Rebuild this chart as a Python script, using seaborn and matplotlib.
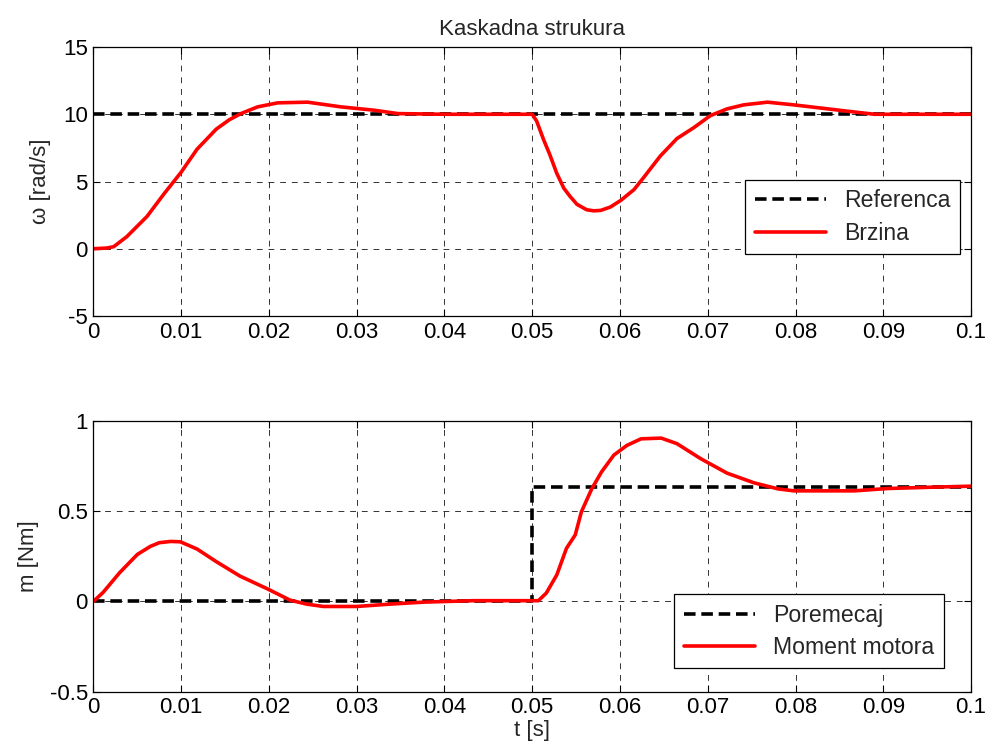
import numpy as np
import pandas as pd
import matplotlib
matplotlib.use("Agg")
import matplotlib.pyplot as plt
import seaborn as sns

# ---- data ----
t_ref = [0.0, 0.1]
omega_ref = [10.0, 10.0]

t_speed = [0.0, 0.0015, 0.0023, 0.0038, 0.0061, 0.008, 0.01, 0.0118, 0.014, 0.0155,
           0.0168, 0.0187, 0.021, 0.0244, 0.0282, 0.032, 0.0347, 0.040, 0.0500, 0.0505,
           0.0513, 0.052, 0.0528, 0.0536, 0.0543, 0.0551, 0.0562, 0.0570, 0.0578, 0.0589,
           0.0601, 0.0616, 0.0627, 0.0646, 0.0665, 0.0684, 0.0703, 0.0722, 0.0741, 0.0768,
           0.0798, 0.0837, 0.0863, 0.089, 0.095, 0.1]
omega = [0.0, 0.05, 0.15, 0.9, 2.4, 4.05, 5.7, 7.4, 8.9, 9.6,
         10.05, 10.55, 10.85, 10.9, 10.55, 10.3, 10.05, 10.0, 10.0, 9.5,
         8.1, 7.0, 5.6, 4.5, 3.9, 3.3, 2.9, 2.82, 2.85, 3.1,
         3.6, 4.4, 5.3, 6.9, 8.2, 9.0, 9.9, 10.4, 10.7, 10.9,
         10.7, 10.4, 10.2, 10.0, 10.0, 10.0]

t_dist = [0.0, 0.05, 0.05, 0.1]
m_dist = [0.0, 0.0, 0.632, 0.632]

t_torque = [0.0, 0.0011, 0.003, 0.005, 0.0065, 0.0075, 0.0088, 0.0099, 0.0118, 0.014,
            0.0167, 0.0198, 0.0224, 0.0243, 0.0262, 0.03, 0.0338, 0.0376, 0.0433, 0.0497,
            0.0507, 0.0516, 0.0528, 0.0539, 0.0549, 0.0556, 0.0568, 0.0579, 0.0593, 0.0608,
            0.0624, 0.0647, 0.0665, 0.0692, 0.0722, 0.0753, 0.078, 0.0798, 0.0867, 0.0905,
            0.0954, 0.1]
m_motor = [0.0, 0.05, 0.16, 0.26, 0.305, 0.325, 0.332, 0.33, 0.29, 0.22,
           0.14, 0.07, 0.007, -0.015, -0.028, -0.028, -0.015, -0.004, 0.004, 0.004,
           0.004, 0.046, 0.147, 0.294, 0.368, 0.496, 0.625, 0.717, 0.81, 0.864,
           0.9, 0.904, 0.873, 0.79, 0.71, 0.656, 0.623, 0.612, 0.612, 0.625,
           0.632, 0.638]

x_ticks = [0, 0.01, 0.02, 0.03, 0.04, 0.05, 0.06, 0.07, 0.08, 0.09, 0.1]
x_ticklabels = ["0", "0.01", "0.02", "0.03", "0.04", "0.05", "0.06", "0.07", "0.08", "0.09", "0.1"]
y1_ticks = [-5, 0, 5, 10, 15]
y1_ticklabels = ["-5", "0", "5", "10", "15"]
y2_ticks = [-0.5, 0, 0.5, 1]
y2_ticklabels = ["-0.5", "0", "0.5", "1"]

# ---- style ----
sns.set_theme(style="white")
plt.rcParams["font.family"] = ["Liberation Sans", "DejaVu Sans"]
plt.rcParams["font.size"] = 16

fig = plt.figure(figsize=(9.87, 7.55), dpi=100)
ax1 = fig.add_axes([0.0947, 0.5815, 0.8891, 0.3562])
ax2 = fig.add_axes([0.0947, 0.0838, 0.8891, 0.3589])

df_ref = pd.DataFrame({"t": t_ref, "v": omega_ref})
df_spd = pd.DataFrame({"t": t_speed, "v": omega})
df_dist = pd.DataFrame({"t": t_dist, "v": m_dist})
df_tq = pd.DataFrame({"t": t_torque, "v": m_motor})

sns.lineplot(data=df_ref, x="t", y="v", ax=ax1, color="black", lw=2.6,
             linestyle=(0, (3.2, 1.6)), estimator=None, sort=False, label="Referenca")
sns.lineplot(data=df_spd, x="t", y="v", ax=ax1, color="#ff0000", lw=2.6,
             estimator=None, sort=False, label="Brzina")
sns.lineplot(data=df_dist, x="t", y="v", ax=ax2, color="black", lw=2.6,
             linestyle=(0, (3.2, 1.6)), estimator=None, sort=False, label="Poremecaj")
sns.lineplot(data=df_tq, x="t", y="v", ax=ax2, color="#ff0000", lw=2.6,
             estimator=None, sort=False, label="Moment motora")

for ax, yt, yl in ((ax1, y1_ticks, y1_ticklabels), (ax2, y2_ticks, y2_ticklabels)):
    ax.set_xlim(0, 0.1)
    ax.set_xticks(x_ticks)
    ax.set_xticklabels(x_ticklabels)
    ax.set_yticks(yt)
    ax.set_yticklabels(yl)
    ax.grid(True, color="black", linestyle=(0, (6, 6)), lw=0.7, alpha=0.8)
    ax.tick_params(direction="in", length=5, width=0.8, top=True, right=True,
                   bottom=True, left=True, labelsize=16, colors="black", pad=4)
    for s in ax.spines.values():
        s.set_color("black")
        s.set_linewidth(0.9)
    ax.set_facecolor("white")

ax1.set_ylim(-5, 15)
ax2.set_ylim(-0.5, 1)

ax1.set_xlabel("")
ax1.set_ylabel("ω [rad/s]", fontsize=16, labelpad=9)
ax1.set_title("Kaskadna strukura", fontsize=16, pad=9)
ax2.set_xlabel("t [s]", fontsize=16, labelpad=1)
ax2.set_ylabel("m [Nm]", fontsize=16, labelpad=8)

leg_kw = dict(frameon=True, fancybox=False, framealpha=1, edgecolor="black",
              handlelength=3.1, fontsize=16.6, borderpad=0.4, labelspacing=0.4,
              handletextpad=0.8, borderaxespad=0)
l1 = ax1.legend(loc="lower right", bbox_to_anchor=(0.9875, 0.231), **leg_kw)
l2 = ax2.legend(loc="lower right", bbox_to_anchor=(0.969, 0.0875), **leg_kw)
for l in (l1, l2):
    l.get_frame().set_linewidth(0.9)

fig.savefig("out.png", dpi=100, facecolor="white")
